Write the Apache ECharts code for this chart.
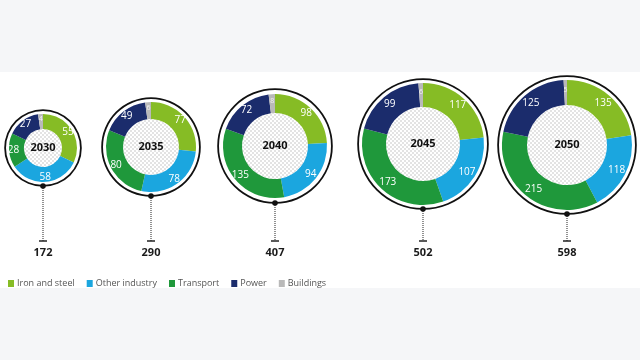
<!DOCTYPE html>
<html>
<head>
<meta charset="utf-8">
<script src="https://cdn.jsdelivr.net/npm/echarts@6/dist/echarts.min.js"></script>
<style>
  html, body { margin: 0; padding: 0; background: #f5f6f8; }
  #chart { width: 640px; height: 360px; }
</style>
</head>
<body>
<div id="chart"></div>
<script>
// data
const years = ['2030', '2035', '2040', '2045', '2050'];
const sectors = ['Iron and steel', 'Other industry', 'Transport', 'Power', 'Buildings'];
const ironSteel = [55, 77, 98, 117, 135];
const otherIndustry = [58, 78, 94, 107, 118];
const transport = [28, 80, 135, 173, 215];
const power = [27, 49, 72, 99, 125];
const buildings = [4, 6, 8, 6, 5];

const colors = ['#86bc25', '#1ba6df', '#1f983b', '#1b2c6c', '#b9b9b9'];

// layout of each bubble
const cx = [43, 151, 275, 423, 567];
const cy = [148, 147, 146, 144, 145];
const ringR = [38, 49, 57, 65, 69];
const outerR = [34, 45, 52, 61, 65];
const innerR = [19, 28, 33, 37, 40];
const capY = 241;
const totalY = 253;

// checker fill for the centre
const pat = document.createElement('canvas');
pat.width = 4; pat.height = 4;
const pctx = pat.getContext('2d');
pctx.fillStyle = '#ffffff';
pctx.fillRect(0, 0, 4, 4);
pctx.fillStyle = '#e3e3e3';
pctx.fillRect(0, 0, 2, 2);
pctx.fillRect(2, 2, 2, 2);

const myChart = echarts.init(document.getElementById('chart'));

let series = [];
let graphics = [
    { type: 'rect', z: -10, shape: { x: 0, y: 72, width: 640, height: 216 }, style: { fill: '#ffffff' }, silent: true }
];

years.forEach((year, i) => {
    const values = [ironSteel[i], otherIndustry[i], transport[i], power[i], buildings[i]];
    const total = values.reduce((a, b) => a + b, 0);

    // black outer ring
    series.push({
        type: 'pie',
        silent: true,
        center: [cx[i], cy[i]],
        radius: [ringR[i] - 1, ringR[i] + 0.8],
        label: { show: false },
        itemStyle: { color: '#111' },
        data: [{ value: 1, name: '' }]
    });
    // centre with the year
    series.push({
        type: 'pie',
        silent: true,
        center: [cx[i], cy[i]],
        radius: [0, innerR[i]],
        itemStyle: { color: { image: pat, repeat: 'repeat' } },
        label: {
            show: true,
            position: 'center',
            formatter: year,
            color: '#111',
            fontSize: 11,
            fontWeight: 'bold',
            fontFamily: 'Open Sans'
        },
        data: [{ value: 1, name: '' }]
    });
    // sector donut
    series.push({
        type: 'pie',
        center: [cx[i], cy[i]],
        radius: [innerR[i], outerR[i]],
        startAngle: 90,
        clockwise: true,
        emphasis: { scale: false },
        label: {
            show: true,
            position: 'inside',
            formatter: '{c}',
            color: '#fff',
            fontSize: 10,
            fontFamily: 'Open Sans'
        },
        labelLine: { show: false },
        data: sectors.map((s, k) => ({
            name: s,
            value: values[k],
            itemStyle: { color: colors[k] },
            label: k === 4 ? { fontSize: 7, color: '#f4f4f4' } : {}
        }))
    });

    const bottom = cy[i] + ringR[i];
    graphics.push({
        type: 'line',
        silent: true,
        shape: { x1: cx[i], y1: bottom, x2: cx[i], y2: capY },
        style: { stroke: '#222', lineWidth: 1, lineDash: [1, 1] }
    });
    graphics.push({
        type: 'line',
        silent: true,
        shape: { x1: cx[i] - 4, y1: capY, x2: cx[i] + 4, y2: capY },
        style: { stroke: '#222', lineWidth: 1.5 }
    });
    graphics.push({
        type: 'circle',
        silent: true,
        z: 10,
        shape: { cx: cx[i], cy: bottom, r: 2.8 },
        style: { fill: '#111' }
    });
    graphics.push({
        type: 'text',
        silent: true,
        x: cx[i],
        y: totalY,
        style: {
            text: String(total),
            fill: '#1a1a1a',
            font: 'bold 11px "Open Sans"',
            align: 'center',
            verticalAlign: 'middle'
        }
    });
});

let option = {
    backgroundColor: '#f5f6f8',
    animation: false,
    color: colors,
    legend: {
        data: sectors,
        left: 3,
        top: 274,
        icon: 'rect',
        itemWidth: 6,
        itemHeight: 7,
        itemGap: 12,
        textStyle: {
            color: '#555',
            fontSize: 9,
            fontFamily: 'Open Sans',
            padding: [0, 0, 0, -2]
        }
    },
    graphic: graphics,
    series: series
};

myChart.setOption(option);
</script>
</body>
</html>
